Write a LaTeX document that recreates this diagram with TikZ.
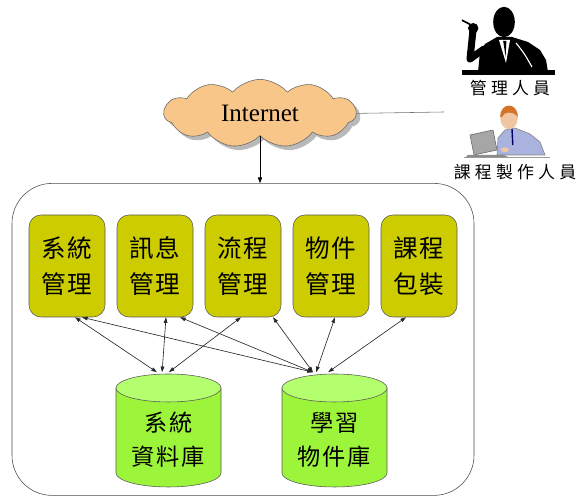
\documentclass[tikz,border=0pt]{standalone}
\usepackage{fontspec}
\setmainfont{Liberation Serif}
\newfontfamily\cjkmod{Noto Sans CJK TC}[LetterSpace=8]
\newfontfamily\cjkrole{Noto Sans CJK TC}[LetterSpace=25]
\usetikzlibrary{arrows.meta,positioning,shapes.geometric,shapes.symbols,shadows}
\definecolor{cloudfill}{HTML}{F9C68A}
\definecolor{modfill}{HTML}{CCCC00}
\definecolor{dbbody}{HTML}{9CF53A}
\definecolor{dbtop}{HTML}{B4FF6E}
\definecolor{skin}{HTML}{F0C6A2}
\definecolor{hair}{HTML}{D4742A}
\definecolor{shirt}{HTML}{A9B3DE}
\tikzset{>=Latex,line width=.5pt,
  frame/.style={draw=black!70,rounded corners=1cm,minimum width=11.55cm,minimum height=7.8cm},
  net/.style={cloud,cloud puffs=11,cloud puff arc=100,cloud ignores aspect,draw=black!60,
    fill=cloudfill,minimum width=4.8cm,minimum height=1.7cm,
    drop shadow={shadow xshift=.1cm,shadow yshift=-.1cm,fill=black!55},
    font=\fontsize{17.8}{20}\selectfont},
  module/.style={draw=black!65,fill=modfill,rounded corners=.3cm,minimum width=1.9cm,
    minimum height=2.55cm,align=center,font=\cjkmod\fontsize{17.5}{25.6}\selectfont},
  dbshape/.style={fill=dbbody,draw=black!65},
  dbtext/.style={align=center,font=\cjkmod\fontsize{16.5}{24}\selectfont},
  role/.style={font=\cjkrole\fontsize{12}{14}\selectfont},
  link/.style={<->,>={Triangle[length=4pt,width=2.6pt]},draw=black!85,line width=.45pt}}

\begin{document}
\begin{tikzpicture}[x=1cm,y=1cm]
\useasboundingbox (0,0) rectangle (14.4,12.425);
% platform frame and the network
\node[frame] (frame) at (6.075,3.94) {};
\node[net] (net) at (6.5,9.59) {Internet};
\coordinate (staff) at (11.1,9.625);
\draw[black!55] (net.east) -- (staff);
\draw[->,>={Triangle[length=4pt,width=3pt]}] (net.south) -- (net.south |- frame.north);
% management modules
\node[module] (m1) at (1.675,5.775) {系統\\管理};
\node[module] (m2) at (3.875,5.775) {訊息\\管理};
\node[module] (m3) at (6.075,5.775) {流程\\管理};
\node[module] (m4) at (8.275,5.775) {物件\\管理};
\node[module] (m5) at (10.475,5.775) {課程\\包裝};
% databases: body, lid, then the top point the links go to
\foreach \d/\x in {db1/4.2125,db2/8.3625}{
  \draw[dbshape] (\x-1.3125,2.725) -- (\x-1.3125,.6)
    arc[start angle=180,end angle=360,x radius=1.3125,y radius=.35] -- (\x+1.3125,2.725) -- cycle;
  \draw[dbshape,fill=dbtop] (\x,2.725) ellipse (1.3125 and .35);
  \coordinate (\d) at (\x,3.12);
}
\node[dbtext] (db1t) at (4.2125,1.425) {系統\\資料庫};
\node[dbtext] (db2t) at (8.3625,1.425) {學習\\物件庫};
\foreach \m/\a/\d/\b in {m1/.2/db1/-.29,m1/.375/db2/-.54,m2/.275/db1/-.16,m2/.625/db2/-.54,
  m3/-.05/db1/.01,m3/.75/db2/-.54,m4/.1/db2/-.46,m5/-.325/db2/-.16}
  {\draw[link] ([xshift=\a cm]\m.south) -- ([xshift=\b cm]\d);}
% manager
\fill[black] (11.95,10.625) -- (12.0,11.125) -- (12.125,11.325) -- (12.425,11.5) -- (12.8,11.5)
  -- (13.2,11.375) -- (13.5,11.175) -- (13.65,10.925) -- (13.7,10.625) -- cycle;
\fill[black] (12.6,11.875) ellipse (.27 and .38);
\draw[line width=5pt,line cap=round,line join=round] (11.825,11.675) -- (11.75,10.95) -- (12.1,11.2);
\fill[black] (11.83,11.72) circle (.13);
\draw[black,line width=1.2pt] (11.78,11.8) -- (11.55,11.92);
\fill[white] (12.475,11.425) -- (12.75,11.425) -- (12.65,10.85) -- cycle;
\fill[black] (12.58,11.4) -- (12.66,11.4) -- (12.64,11.0) -- cycle;
\draw[white,line width=.8pt] (12.9,11.35) .. controls (13.1,11.1) .. (13.3,10.75);
\fill[black] (11.55,10.68) rectangle (13.875,10.55);
\node[role] (admin) at (12.75,10.225) {管理人員};
% course author at the laptop
\fill[shirt,draw=black!50] (12.425,8.55) -- (12.45,8.975) -- (12.625,9.175) -- (12.875,9.225)
  -- (13.25,9.075) -- (13.5,8.875) -- (13.625,8.55) -- cycle;
\fill[skin] (12.725,9.475) ellipse (.22 and .28);
\fill[hair] (12.505,9.5) .. controls (12.5,9.88) and (12.95,9.88) .. (12.945,9.5)
  -- (12.9,9.55) .. controls (12.8,9.64) and (12.6,9.64) .. (12.55,9.5) -- cycle;
\draw[blue!40!black,line width=1pt] (12.8,9.2) -- (12.82,8.8);
\fill[black!35,draw=black!60] (11.75,9.05) -- (12.325,9.175) -- (12.425,8.675) -- (11.85,8.55) -- cycle;
\fill[black!45] (11.7,8.55) -- (12.6,8.55) -- (12.7,8.5) -- (11.65,8.5) -- cycle;
\fill[skin] (12.62,8.68) ellipse (.1 and .06);
\draw[black!40] (11.6,8.5) -- (13.75,8.5);
\node[role] (author) at (12.875,8.125) {課程製作人員};
\end{tikzpicture}
\end{document}
